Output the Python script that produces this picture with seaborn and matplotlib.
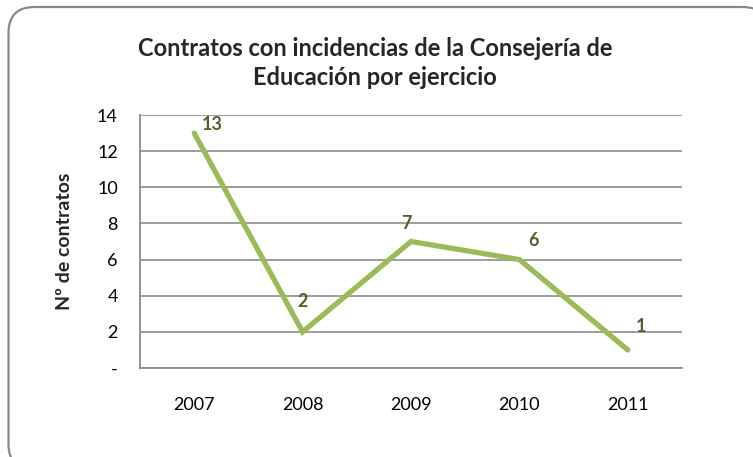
import matplotlib
matplotlib.use("Agg")
import matplotlib.pyplot as plt
import seaborn as sns
import pandas as pd
from matplotlib.patches import FancyBboxPatch

years = ["2007", "2008", "2009", "2010", "2011"]
contratos = [13, 2, 7, 6, 1]
yticks = [0, 2, 4, 6, 8, 10, 12, 14]
ytick_labels = ["-", "2", "4", "6", "8", "10", "12", "14"]
title = "Contratos con incidencias de la Consejería de\nEducación por ejercicio"
ylabel = "Nº de contratos"

sns.set_theme(style="white")
plt.rcParams["font.family"] = ["Lato", "DejaVu Sans"]

df = pd.DataFrame({"year": years, "n": contratos})

fig = plt.figure(figsize=(7.53, 4.57), dpi=100)
border = FancyBboxPatch((0.085, -0.13), 7.6, 4.63,
                        boxstyle="round,pad=0,rounding_size=0.26",
                        transform=fig.dpi_scale_trans, facecolor="white",
                        edgecolor="#8a8a8a", linewidth=1.6, zorder=-5)
fig.patches.append(border)

ax = fig.add_axes([140 / 753, 1 - 368 / 457, 542 / 753, 253 / 457])
ax.set_zorder(2)
ax.set_facecolor("none")
sns.lineplot(data=df, x="year", y="n", ax=ax, color="#9BBB59", linewidth=3.8,
             sort=False, solid_joinstyle="miter")
ax.set_xlim(-0.5, len(years) - 0.5)
ax.set_ylim(0, 14)
ax.set_yticks(yticks)
ax.set_yticklabels(ytick_labels, fontsize=13, color="#000000")
ax.tick_params(axis="x", labelsize=13, colors="#000000", pad=21, length=0)
ax.tick_params(axis="y", pad=16, length=0)
ax.yaxis.grid(True, color="#8c8c8c", linewidth=1.2)
ax.xaxis.grid(False)
for s in ["top", "right"]:
    ax.spines[s].set_visible(False)
for s in ["left", "bottom"]:
    ax.spines[s].set_color("#8c8c8c")
    ax.spines[s].set_linewidth(1.3)
ax.set_xlabel("")
ax.set_ylabel(ylabel, fontsize=14, fontweight="bold", labelpad=17)

offsets = [(18, 9), (0, 30), (-5, 18), (14, 19), (13, 23)]
for i, (v, off) in enumerate(zip(contratos, offsets)):
    ax.annotate(str(v), (i, v), xytext=off, textcoords="offset pixels",
                ha="center", va="center", fontsize=13, fontweight="bold",
                color="#4F6228")

fig.text(375 / 753, 1 - 63 / 457, title, ha="center", va="center",
         fontsize=17, fontweight="bold", linespacing=1.35, zorder=3)

fig.savefig("out.png", dpi=100)
